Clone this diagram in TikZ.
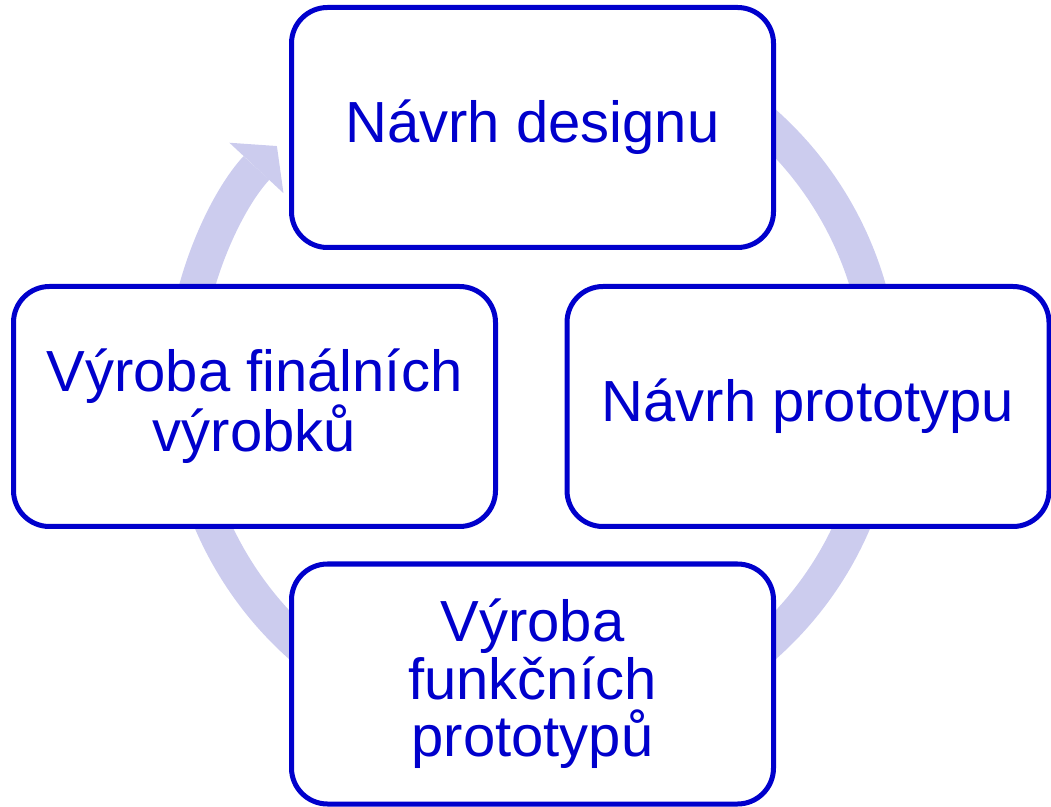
\documentclass[tikz,border=0pt]{standalone}
\usepackage{fontspec}
\setmainfont{Liberation Sans}
\usepackage{tikz}
\usetikzlibrary{arrows.meta}
\definecolor{boxblue}{RGB}{0,0,204}
\definecolor{bandblue}{RGB}{204,204,238}

\begin{document}
\begin{tikzpicture}[x=1pt, y=1pt,
		box/.style={draw=boxblue, line width=5pt, fill=white, rounded corners=36pt,
			minimum width=482pt, minimum height=240pt, inner sep=0pt, align=center,
			text=boxblue, font=\fontsize{58}{57.5}\selectfont},
		band/.style={draw=bandblue, line width=35pt},
		>={Triangle[width=74pt, length=30pt, line width=0pt]}]
			\useasboundingbox (0,0) rectangle (1051,806);
			\coordinate (hub) at (532.5,421.6);
			\draw[band, ->] ([shift={(80:349.5)}]hub) arc (80:-223:349.5);
			\node[box] (design) at (532.5,678.5) {Návrh designu};
			\node[box] (proto) at (808,399.5) {Návrh prototypu};
			\node[box] (funkc) at (532.5,122) {Výroba\\funkčních\\prototypů};
			\node[box] (final) at (254.5,399.5) {Výroba finálních\\výrobků};
		\end{tikzpicture}
\end{document}
